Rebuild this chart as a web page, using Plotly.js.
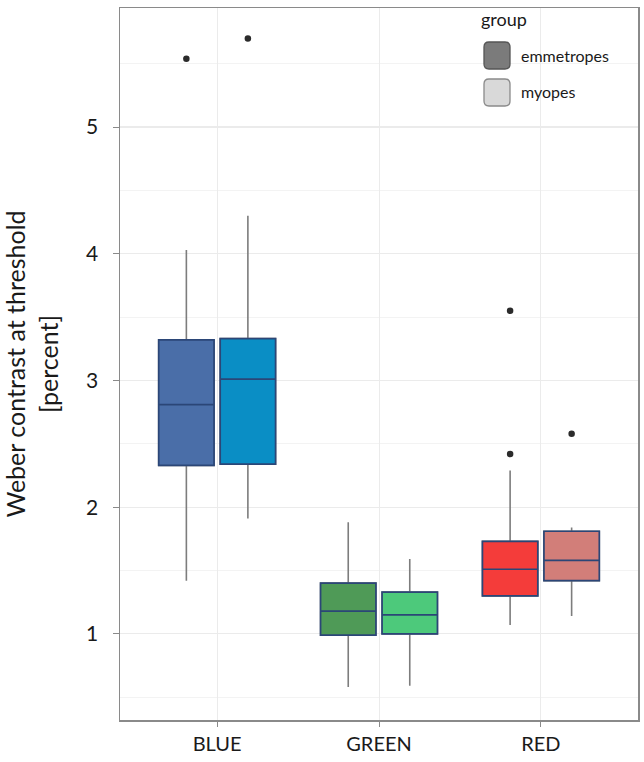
<!DOCTYPE html>
<html>
<head>
<meta charset="utf-8">
<script src="https://cdn.plot.ly/plotly-3.0.1.min.js"></script>
<style>html,body{margin:0;padding:0;background:#fff;}#chart{width:644px;height:762px;}</style>
</head>
<body>
<div id="chart"></div>
<script>
// Categories
var categories = ['BLUE', 'GREEN', 'RED'];
var groups = ['emmetropes', 'myopes'];
var legendTitle = 'group';

// Emmetropes statistics (per category)
var emmQ1 = [2.33, 0.99, 1.30];
var emmMedian = [2.81, 1.18, 1.51];
var emmQ3 = [3.32, 1.40, 1.73];
var emmLower = [1.42, 0.58, 1.07];
var emmUpper = [4.03, 1.88, 2.29];
var emmOutliers = [[5.54], [], [2.42, 3.55]];

// Myopes statistics (per category)
var myoQ1 = [2.34, 1.00, 1.42];
var myoMedian = [3.01, 1.15, 1.58];
var myoQ3 = [3.33, 1.33, 1.81];
var myoLower = [1.91, 0.59, 1.14];
var myoUpper = [4.30, 1.59, 1.84];
var myoOutliers = [[5.70], [], [2.58]];

var emmColors = ['#4a6ea8', '#4f9a57', '#f43c3a'];
var myoColors = ['#0a8ec5', '#4dc97b', '#d27e79'];
var legendFills = ['#7b7b7b', '#d9d9d9'];
var legendLines = ['#555555', '#8a8a8a'];

var FONT = 'Lato, "Open Sans", sans-serif';
var traces = [];

function whiskerTrace(name, q1, med, q3, lo, hi, outl, group) {
  return {
    type: 'box', name: name, x: categories, y: outl,
    q1: q1, median: med, q3: q3, lowerfence: lo, upperfence: hi,
    offsetgroup: group, boxpoints: 'outliers', whiskerwidth: 0,
    fillcolor: '#ffffff',
    line: {color: '#7d7d7d', width: 1.6},
    marker: {color: '#2b2b2b', size: 6.5, outliercolor: '#2b2b2b', line: {width: 0}},
    showlegend: false, hoverinfo: 'skip'
  };
}
traces.push(whiskerTrace(groups[0], emmQ1, emmMedian, emmQ3, emmLower, emmUpper, emmOutliers, 'emm'));
traces.push(whiskerTrace(groups[1], myoQ1, myoMedian, myoQ3, myoLower, myoUpper, myoOutliers, 'myo'));

function colorBoxes(q1, med, q3, colors, group) {
  for (var i = 0; i < categories.length; i++) {
    traces.push({
      type: 'box', x: [categories[i]],
      q1: [q1[i]], median: [med[i]], q3: [q3[i]],
      lowerfence: [q1[i]], upperfence: [q3[i]],
      offsetgroup: group, boxpoints: false, whiskerwidth: 0,
      fillcolor: colors[i],
      line: {color: '#2b4677', width: 1.7},
      showlegend: false, hoverinfo: 'skip'
    });
  }
}
colorBoxes(emmQ1, emmMedian, emmQ3, emmColors, 'emm');
colorBoxes(myoQ1, myoMedian, myoQ3, myoColors, 'myo');

// custom legend (pixel layout -> paper coords)
var MARGIN = {l: 120, r: 6, t: 8, b: 42};
var PW = 644 - MARGIN.l - MARGIN.r, PH = 762 - MARGIN.t - MARGIN.b;
function px(x) { return (x - MARGIN.l) / PW; }
function py(y) { return (762 - MARGIN.b - y) / PH; }
function roundRect(x0, y0, x1, y1, r) {
  return 'M' + px(x0 + r) + ',' + py(y0) +
    ' L' + px(x1 - r) + ',' + py(y0) + ' Q' + px(x1) + ',' + py(y0) + ' ' + px(x1) + ',' + py(y0 + r) +
    ' L' + px(x1) + ',' + py(y1 - r) + ' Q' + px(x1) + ',' + py(y1) + ' ' + px(x1 - r) + ',' + py(y1) +
    ' L' + px(x0 + r) + ',' + py(y1) + ' Q' + px(x0) + ',' + py(y1) + ' ' + px(x0) + ',' + py(y1 - r) +
    ' L' + px(x0) + ',' + py(y0 + r) + ' Q' + px(x0) + ',' + py(y0) + ' ' + px(x0 + r) + ',' + py(y0) + ' Z';
}
var shapes = [], annotations = [];
annotations.push({xref: 'paper', yref: 'paper', x: px(479), y: py(19), xanchor: 'left', yanchor: 'middle',
  text: legendTitle, showarrow: false, font: {size: 18, family: FONT, color: '#1a1a1a'}});
for (var g = 0; g < groups.length; g++) {
  var rowTop = 42 + g * 37;
  shapes.push({type: 'path', xref: 'paper', yref: 'paper', path: roundRect(484, rowTop, 510, rowTop + 27, 5),
    fillcolor: legendFills[g], line: {color: legendLines[g], width: 1.3}, layer: 'above'});
  annotations.push({xref: 'paper', yref: 'paper', x: px(519), y: py(rowTop + 13), xanchor: 'left', yanchor: 'middle',
    text: groups[g], showarrow: false, font: {size: 16, family: FONT, color: '#1a1a1a'}});
}

var layout = {
  width: 644, height: 762,
  margin: MARGIN,
  paper_bgcolor: '#ffffff', plot_bgcolor: '#ffffff',
  font: {family: FONT, color: '#1a1a1a'},
  boxmode: 'group', boxgap: 0.24, boxgroupgap: 0.1,
  showlegend: false,
  shapes: shapes, annotations: annotations,
  xaxis: {
    type: 'category', categoryorder: 'array', categoryarray: categories,
    range: [-0.6, 2.6],
    showline: true, mirror: true, linecolor: '#8a8a8a', linewidth: 1.5,
    ticks: 'outside', ticklen: 5, tickcolor: '#8a8a8a',
    showgrid: true, gridcolor: '#ebebeb', gridwidth: 1,
    tickfont: {size: 20, family: FONT, color: '#1a1a1a'},
    zeroline: false, fixedrange: true
  },
  yaxis: {
    range: [0.32, 5.94],
    tickmode: 'linear', tick0: 0, dtick: 1,
    showline: true, mirror: true, linecolor: '#8a8a8a', linewidth: 1.5,
    ticks: 'outside', ticklen: 6, tickcolor: '#8a8a8a',
    ticklabelstandoff: 10,
    showgrid: true, gridcolor: '#ebebeb', gridwidth: 1.2,
    minor: {tickmode: 'linear', tick0: 0.5, dtick: 1, showgrid: true, gridcolor: '#f3f3f3', gridwidth: 1, ticks: ''},
    zeroline: false,
    tickfont: {size: 21, family: FONT, color: '#1a1a1a'},
    title: {text: 'Weber contrast at threshold<br>[percent]', font: {size: 25, family: FONT, color: '#1a1a1a'}, standoff: 28},
    fixedrange: true
  }
};

Plotly.newPlot('chart', traces, layout, {displayModeBar: false, staticPlot: true});
</script>
</body>
</html>
